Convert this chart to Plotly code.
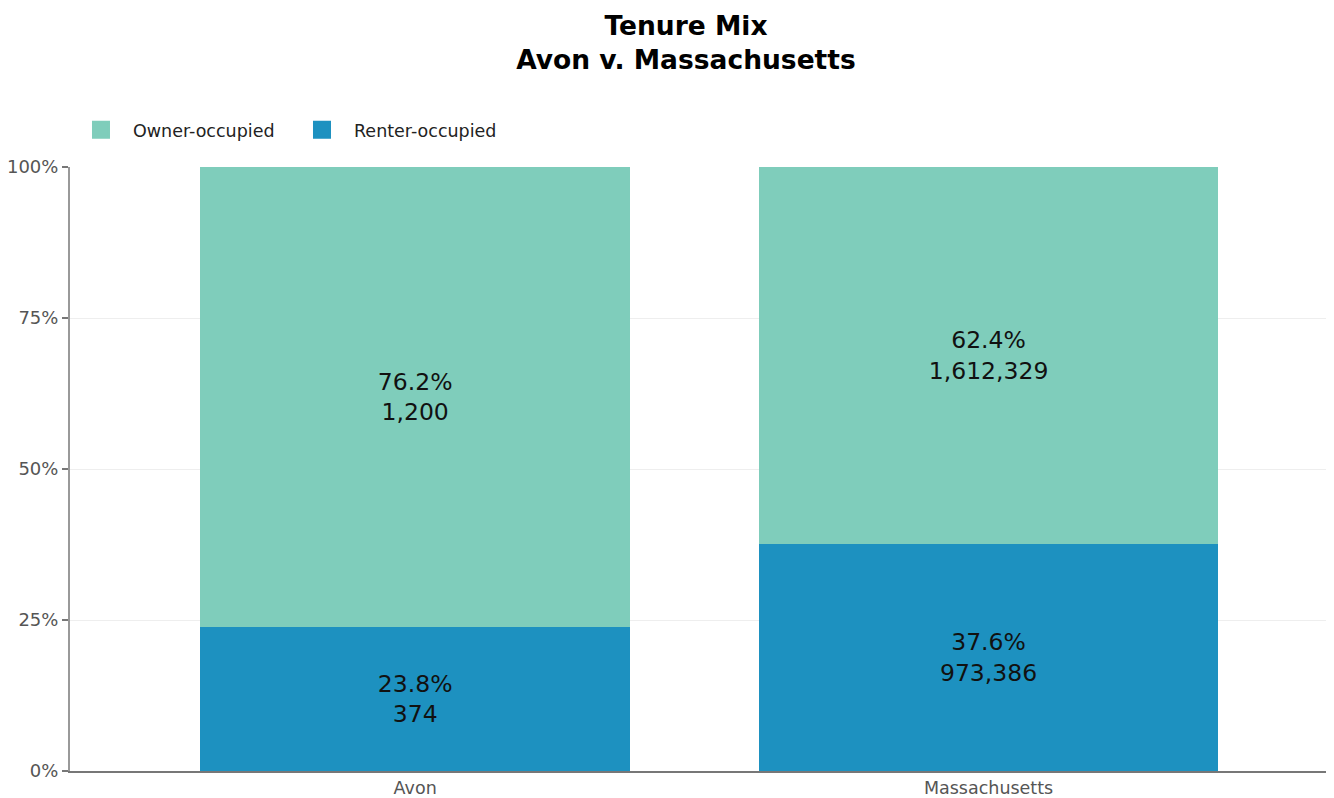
import plotly.graph_objects as go

categories = ["Avon", "Massachusetts"]
owner_counts = [1200, 1612329]
renter_counts = [374, 973386]
owner_pct = [0.762, 0.624]
renter_pct = [0.238, 0.376]
bar_widths = [0.75, 0.80]

owner_color = "#7fcdbb"
renter_color = "#1d91c0"
font_family = "DejaVu Sans"

def labels(pcts, counts):
    return [f"{p*100:.1f}%<br>{c:,}" for p, c in zip(pcts, counts)]

fig = go.Figure()
fig.add_trace(go.Bar(
    x=categories, y=renter_pct, width=bar_widths, name="Renter-occupied",
    marker=dict(color=renter_color, line=dict(width=0)),
    text=labels(renter_pct, renter_counts), textposition="inside",
    insidetextanchor="middle", textfont=dict(size=23.5, color="#111111"),
    showlegend=False, hoverinfo="skip",
))
fig.add_trace(go.Bar(
    x=categories, y=owner_pct, width=bar_widths, name="Owner-occupied",
    marker=dict(color=owner_color, line=dict(width=0)),
    text=labels(owner_pct, owner_counts), textposition="inside",
    insidetextanchor="middle", textfont=dict(size=23.5, color="#111111"),
    showlegend=False, hoverinfo="skip",
))
# legend entries
for nm, col in [("Owner-occupied", owner_color), ("Renter-occupied", renter_color)]:
    fig.add_trace(go.Scatter(
        x=[None], y=[None], mode="markers", name=nm,
        marker=dict(symbol="square", size=16, color=col, line=dict(width=2, color=col)),
        showlegend=True,
    ))

fig.update_layout(
    barmode="stack",
    width=1326, height=790,
    paper_bgcolor="white", plot_bgcolor="white",
    font=dict(family=font_family, size=17, color="#333333"),
    title=dict(
        text="<b>Tenure Mix<br>Avon v. Massachusetts</b>",
        x=0.5113, xanchor="center", y=0.966, yanchor="top",
        font=dict(family=font_family, size=26.5, color="#000000"),
    ),
    margin=dict(l=62, r=2, t=159, b=27, autoexpand=False),
    legend=dict(
        orientation="h", x=-0.0008, xanchor="left", y=1.0613, yanchor="middle",
        font=dict(size=17.5, color="#222222"), itemwidth=54, entrywidth=152,
        traceorder="normal",
    ),
    xaxis=dict(
        type="category", range=[-0.602, 1.599], automargin=False,
        showline=True, linecolor="#777777", linewidth=2,
        ticks="", tickfont=dict(size=17.5, color="#555555"),
        showgrid=False, fixedrange=True,
    ),
    yaxis=dict(
        range=[0, 1], tickvals=[0, 0.25, 0.5, 0.75, 1.0], tickformat=".0%",
        automargin=False,
        showline=True, linecolor="#999999", linewidth=2,
        ticks="outside", ticklen=6, tickcolor="#777777", tickwidth=2,
        tickfont=dict(size=18, color="#555555"),
        showgrid=True, gridcolor="#eeeeee", gridwidth=1, zeroline=False,
    ),
)

fig.write_html("out.html")
